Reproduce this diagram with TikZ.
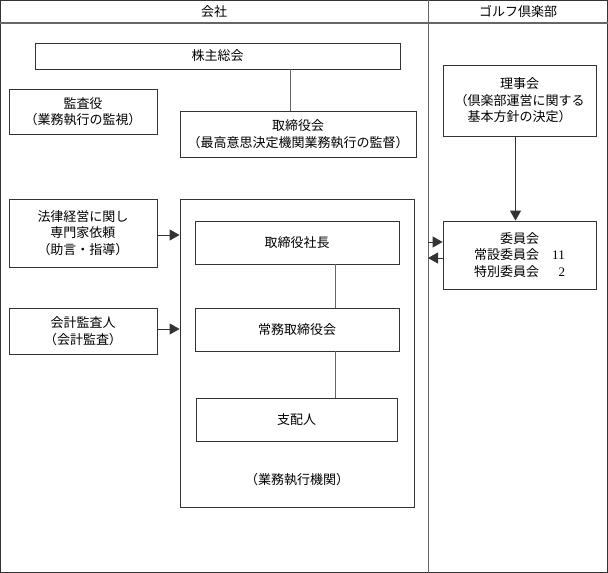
\documentclass[tikz,border=0pt]{standalone}
\usepackage{fontspec}
\setmainfont{Liberation Serif}
\newfontfamily\jp{Noto Sans CJK JP}
\usetikzlibrary{arrows.meta}
\tikzset{
  box/.style={draw=black!80, line width=0.8pt, inner sep=0pt, align=center,
    font=\jp\fontsize{13}{16.5}\selectfont},
  lbl/.style={inner sep=0pt, align=center, font=\jp\fontsize{13}{16.5}\selectfont},
  conn/.style={draw=black!60, line width=0.8pt},
  arr/.style={draw=black!80, line width=0.8pt, -{Triangle[length=10pt,width=11pt]}},
  frame/.style={draw=black!80, line width=1.3pt}
}
\begin{document}
\begin{tikzpicture}[x=1pt,y=-1pt]
\useasboundingbox (0,0) rectangle (608,573);
% frame
\draw[frame] (0.7,0.7) rectangle (607.3,572.3);
\coordinate (hl) at (0,23);
\coordinate (hr) at (608,23);
\draw[draw=black!60, line width=1.2pt] (hl) -- (hr);
\coordinate (dt) at (428,0);
\coordinate (db) at (428,573);
\draw[draw=black!60, line width=1pt] (dt) -- (db);
\node[lbl] (h1) at (214,12) {会社};
\node[lbl] (h2) at (518,12) {ゴルフ倶楽部};
% company nodes
\node[box, minimum width=365pt, minimum height=26pt] (kabu) at (217.5,56) {株主総会};
\node[box, minimum width=148pt, minimum height=45pt] (kansa) at (83,111.5) {監査役\\（業務執行の監視）};
\node[box, minimum width=236pt, minimum height=46pt] (tori) at (298,134) {取締役会\\（最高意思決定機関業務執行の監督）};
\node[box, minimum width=148pt, minimum height=68pt] (hou) at (83,233) {法律経営に関し\\専門家依頼\\（助言・指導）};
\node[box, minimum width=148pt, minimum height=46pt] (kaikei) at (83,331) {会計監査人\\（会計監査）};
\node[box, minimum width=234pt, minimum height=308pt] (big) at (297,353) {};
\node[box, minimum width=204pt, minimum height=43pt] (shacho) at (297,242.5) {取締役社長};
\node[box, minimum width=204pt, minimum height=43pt] (jomu) at (297,329.5) {常務取締役会};
\node[box, minimum width=201pt, minimum height=43pt] (shihai) at (296.5,419.5) {支配人};
\node[lbl] (gyomu) at (297,480) {（業務執行機関）};
% club nodes
\node[box, minimum width=153pt, minimum height=71pt] (riji) at (519.5,100.5) {理事会\\（倶楽部運営に関する\\基本方針の決定）};
\node[box, minimum width=153pt, minimum height=68pt] (iin) at (519.5,255) {委員会\\常設委員会\quad{\rmfamily 11}\\特別委員会\quad\phantom{\rmfamily 1}{\rmfamily 2}};
% connectors
\draw[conn] ([xshift=-8pt]tori.north) -- ([xshift=-8pt]tori.north |- kabu.south);
\draw[conn] ([xshift=38pt]shacho.south) -- ([xshift=38pt]jomu.north);
\draw[conn] ([xshift=38pt]jomu.south) -- ([xshift=38pt]jomu.south |- shihai.north);
\draw[arr] ([yshift=-2pt]hou.east) -- ([yshift=-2pt]hou.east -| big.west);
\draw[arr] ([yshift=2pt]kaikei.east) -- ([yshift=2pt]kaikei.east -| big.west);
\draw[arr] ([xshift=-4pt]riji.south) -- ([xshift=-4pt]iin.north);
\coordinate (a1) at (428,242);
\coordinate (a2) at (428,258);
\draw[arr] (a1) -- (a1 -| iin.west);
\draw[arr] (a2 -| iin.west) -- (a2);
\end{tikzpicture}
\end{document}
